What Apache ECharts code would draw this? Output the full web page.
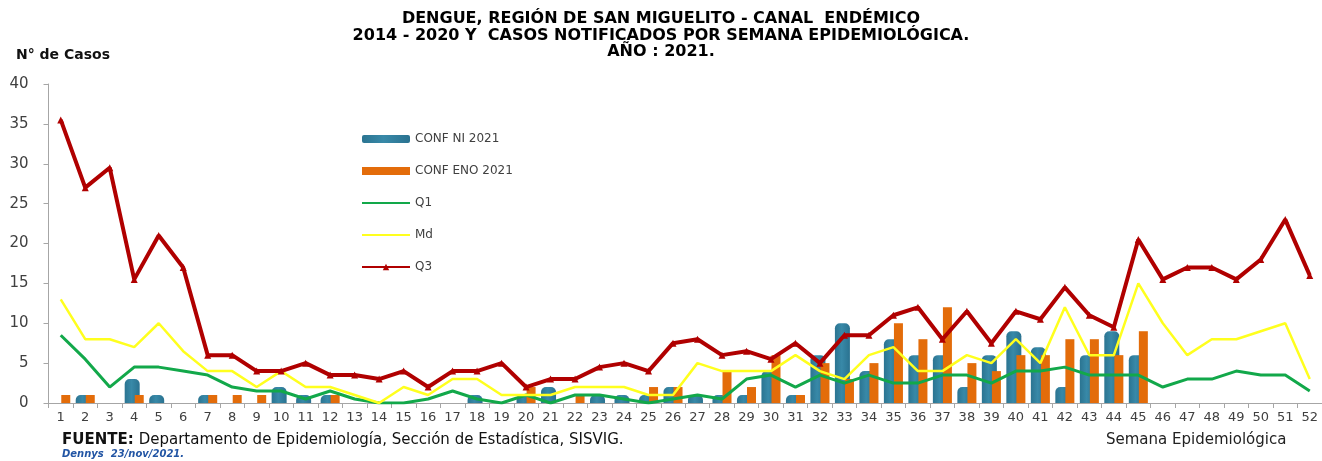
<!DOCTYPE html>
<html>
<head>
<meta charset="utf-8">
<script src="https://cdn.jsdelivr.net/npm/echarts@6/dist/echarts.min.js"></script>
<style>
html,body{margin:0;padding:0;background:#ffffff;}
#chart{width:1322px;height:461px;}
</style>
</head>
<body>
<div id="chart"></div>
<script>
// ---- data ----
const weeks = ['1','2','3','4','5','6','7','8','9','10','11','12','13','14','15','16','17','18','19','20','21','22','23','24','25','26','27','28','29','30','31','32','33','34','35','36','37','38','39','40','41','42','43','44','45','46','47','48','49','50','51','52'];

const confNI2021 = [0,1,0,3,1,0,1,0,0,2,1,1,0,0,0,0,0,1,0,1,2,0,1,1,1,2,1,1,1,4,1,6,10,4,8,6,6,2,6,9,7,2,6,9,6,null,null,null,null,null,null,null];

const confENO2021 = [1,1,0,1,0,0,1,1,1,0,0,1,0,0,0,0,0,0,0,2,0,1,0,0,2,2,0,4,2,6,1,5,3,5,10,8,12,5,4,6,6,8,8,6,9,null,null,null,null,null,null,null];

const q1 = [8.5,5.5,2,4.5,4.5,4,3.5,2,1.5,1.5,0.5,1.5,0.5,0,0,0.5,1.5,0.5,0,1,0,1,1,0.5,0,0.5,1,0.5,3,3.5,2,3.5,2.5,3.5,2.5,2.5,3.5,3.5,2.5,4,4,4.5,3.5,3.5,3.5,2,3,3,4,3.5,3.5,1.5];

const md = [13,8,8,7,10,6.5,4,4,2,4,2,2,1,0,2,1,3,3,1,1,1,2,2,2,1,1,5,4,4,4,6,4,3,6,7,4,4,6,5,8,5,12,6,6,15,10,6,8,8,9,10,3];

const q3 = [35.5,27,29.5,15.5,21,17,6,6,4,4,5,3.5,3.5,3,4,2,4,4,5,2,3,3,4.5,5,4,7.5,8,6,6.5,5.5,7.5,5,8.5,8.5,11,12,8,11.5,7.5,11.5,10.5,14.5,11,9.5,20.5,15.5,17,17,15.5,18,23,16];

const titleLines = [
  'DENGUE, REGIÓN DE SAN MIGUELITO - CANAL  ENDÉMICO',
  '2014 - 2020 Y  CASOS NOTIFICADOS POR SEMANA EPIDEMIOLÓGICA.',
  'AÑO : 2021.'
];
const yAxisTitle = 'N° de Casos';
const xAxisTitle = 'Semana Epidemiológica';
const sourceLabel = 'FUENTE:';
const sourceText = 'Departamento de Epidemiología, Sección de Estadística, SISVIG.';
const authorText = 'Dennys  23/nov/2021.';
const seriesNames = ['CONF NI 2021','CONF ENO 2021','Q1','Md','Q3'];

// ---- chart ----
const FONT = 'DejaVu Sans';
const axisGray = '#A6A6A6';
const labelGray = '#404040';

const chart = echarts.init(document.getElementById('chart'), null, {renderer: 'canvas'});

const tealGradient = new echarts.graphic.LinearGradient(0, 0, 1, 0, [
  {offset: 0, color: '#2B7491'},
  {offset: 0.45, color: '#3889A8'},
  {offset: 1, color: '#2A7290'}
]);

chart.setOption({
  animation: false,
  backgroundColor: '#ffffff',
  title: [
    {
      text: titleLines.join('\n'),
      left: 'center',
      top: 11,
      padding: 0,
      textStyle: {fontFamily: FONT, fontWeight: 'bold', fontSize: 16, lineHeight: 16.5, color: '#000000'}
    },
    {
      text: yAxisTitle,
      left: 16,
      top: 47,
      padding: 0,
      textStyle: {fontFamily: FONT, fontWeight: 'bold', fontSize: 14, lineHeight: 16, color: '#111111'}
    },
    {
      text: '{b|' + sourceLabel + '} {n|' + sourceText + '}',
      left: 62,
      top: 431,
      padding: 0,
      textStyle: {
        rich: {
          b: {fontFamily: FONT, fontWeight: 'bold', fontSize: 15, lineHeight: 17, color: '#111111'},
          n: {fontFamily: FONT, fontWeight: 'normal', fontSize: 15, lineHeight: 17, color: '#111111'}
        }
      }
    },
    {
      text: authorText,
      left: 62,
      top: 448,
      padding: 0,
      textStyle: {fontFamily: FONT, fontWeight: 'bold', fontStyle: 'italic', fontSize: 10, lineHeight: 12, color: '#2255A4'}
    },
    {
      text: xAxisTitle,
      left: 1106,
      top: 432,
      padding: 0,
      textStyle: {fontFamily: FONT, fontWeight: 'normal', fontSize: 15, lineHeight: 17, color: '#222222'}
    }
  ],
  legend: {
    orient: 'vertical',
    left: 361,
    top: 132,
    padding: 0,
    itemWidth: 48,
    itemHeight: 8,
    itemGap: 18,
    textStyle: {fontFamily: FONT, fontSize: 12, lineHeight: 14, color: labelGray},
    data: [
      {name: seriesNames[0], icon: 'roundRect'},
      {name: seriesNames[1], icon: 'rect'},
      {name: seriesNames[2], itemStyle: {opacity: 0}},
      {name: seriesNames[3], itemStyle: {opacity: 0}},
      {name: seriesNames[4]}
    ]
  },
  grid: {left: 48.5, top: 84, width: 1275, height: 319, containLabel: false},
  xAxis: {
    type: 'category',
    data: weeks,
    boundaryGap: true,
    axisLine: {show: true, lineStyle: {color: axisGray, width: 1}},
    axisTick: {show: true, length: 5, lineStyle: {color: axisGray}},
    axisLabel: {interval: 0, margin: 8, fontFamily: FONT, fontSize: 13, color: labelGray},
    splitLine: {show: false}
  },
  yAxis: {
    type: 'value',
    min: 0,
    max: 40,
    interval: 5,
    axisLine: {show: true, lineStyle: {color: axisGray, width: 1}},
    axisTick: {show: true, length: 5, lineStyle: {color: axisGray}},
    axisLabel: {margin: 20, fontFamily: FONT, fontSize: 15, color: labelGray},
    splitLine: {show: false}
  },
  series: [
    {
      name: seriesNames[0],
      type: 'bar',
      data: confNI2021,
      barWidth: 15,
      itemStyle: {color: tealGradient, borderRadius: [5, 5, 0, 0]}
    },
    {
      name: seriesNames[1],
      type: 'bar',
      data: confENO2021,
      barWidth: 9,
      barGap: '-33%',
      itemStyle: {color: '#E36C0A'}
    },
    {
      name: seriesNames[2],
      type: 'line',
      data: q1,
      symbol: 'none',
      lineStyle: {color: '#12A84A', width: 3},
      itemStyle: {color: '#12A84A'}
    },
    {
      name: seriesNames[3],
      type: 'line',
      data: md,
      symbol: 'none',
      lineStyle: {color: '#FFFF1E', width: 2.5},
      itemStyle: {color: '#FFFF1E'}
    },
    {
      name: seriesNames[4],
      type: 'line',
      data: q3,
      symbol: 'triangle',
      symbolSize: 7,
      showAllSymbol: true,
      lineStyle: {color: '#B00000', width: 4},
      itemStyle: {color: '#B00000'}
    }
  ]
});
</script>
</body>
</html>
